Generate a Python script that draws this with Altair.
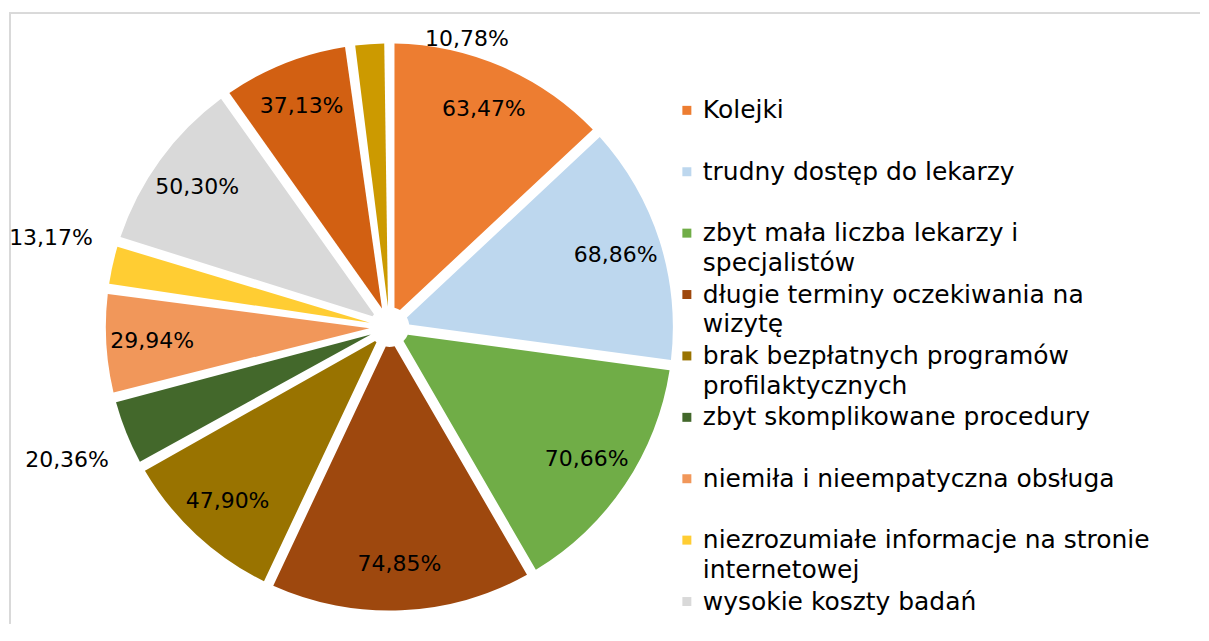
import altair as alt
import pandas as pd

# ---- data ----
categories = [
    "Kolejki",
    "trudny dostęp do lekarzy",
    "zbyt mała liczba lekarzy i specjalistów",
    "długie terminy oczekiwania na wizytę",
    "brak bezpłatnych programów profilaktycznych",
    "zbyt skomplikowane procedury",
    "niemiła i nieempatyczna obsługa",
    "niezrozumiałe informacje na stronie internetowej",
    "wysokie koszty badań",
    "inne 1",
    "inne 2",
]
values = [63.47, 68.86, 70.66, 74.85, 47.90, 20.36, 29.94, 13.17, 50.30, 37.13, 10.78]
colors = [
    "#ED7D31", "#BDD7EE", "#70AD47", "#9E480E", "#997300", "#43682B",
    "#F1975A", "#FFCD33", "#D9D9D9", "#D26012", "#CC9A00",
]
legend_line1 = [
    "Kolejki",
    "trudny dostęp do lekarzy",
    "zbyt mała liczba lekarzy i",
    "długie terminy oczekiwania na",
    "brak bezpłatnych programów",
    "zbyt skomplikowane procedury",
    "niemiła i nieempatyczna obsługa",
    "niezrozumiałe informacje na stronie",
    "wysokie koszty badań",
]
legend_line2 = ["", "", "specjalistów", "wizytę", "profilaktycznych", "", "", "internetowej", ""]

pie_df = pd.DataFrame({"name": categories, "value": values, "idx": list(range(len(categories)))})
leg_df = pd.DataFrame({
    "name": categories[: len(legend_line1)],
    "idx": list(range(len(legend_line1))),
    "line1": legend_line1,
    "line2": legend_line2,
})

FONT = "DejaVu Sans"
W, H = 1193, 612
CX, CY = 381, 315

color_scale = alt.Scale(domain=categories, range=colors)
fmt = "replace(format(datum.value, '.2f'), '.', ',') + '%'"

pie_base = alt.Chart(pie_df).encode(
    theta=alt.Theta("value:Q", stack=True),
    order=alt.Order("idx:Q"),
    x=alt.value(CX),
    y=alt.value(CY),
)

arcs = pie_base.mark_arc(outerRadius=284, innerRadius=20, padAngle=0.036).encode(
    color=alt.Color("name:N", scale=color_scale, legend=None)
)

# labels: inside for large slices, outside for small ones
labels = pie_base.transform_calculate(lab=fmt).mark_text(
    radius=alt.expr("datum.value < 12 ? 292 : datum.value < 25 ? 335 : 238"),
    dx=alt.expr("datum.value < 12 ? 98 : datum.value < 25 ? -12 : 0"),
    dy=alt.expr("datum.value < 12 ? 3 : datum.value < 15 ? -16 : datum.value < 25 ? 8 : 0"),
    fontSize=22, font=FONT, color="#000000",
).encode(text="lab:N")

leg_base = alt.Chart(leg_df).encode(
    y=alt.Y("idx:O", axis=None, scale=alt.Scale(type="point", range=[98, 590], padding=0))
)
leg_sym = leg_base.mark_square(size=81, opacity=1).encode(
    x=alt.value(679),
    color=alt.Color("name:N", scale=color_scale, legend=None),
)
leg_t1 = leg_base.mark_text(align="left", baseline="middle", fontSize=25, font=FONT, color="#000000").encode(
    x=alt.value(695), text="line1:N"
)
leg_t2 = leg_base.transform_filter("datum.line2 != ''").mark_text(
    align="left", baseline="middle", dy=30, fontSize=25, font=FONT, color="#000000"
).encode(x=alt.value(695), text="line2:N")

frame_top = alt.Chart(pie_df).mark_rule(color="#D9D9D9", strokeWidth=1.5).encode(
    x=alt.value(0), x2=alt.value(W), y=alt.value(0.75)
)
frame_left = alt.Chart(pie_df).mark_rule(color="#D9D9D9", strokeWidth=1.5).encode(
    x=alt.value(0.75), y=alt.value(0), y2=alt.value(H)
)

chart = alt.layer(
    frame_top, frame_left, arcs, labels, leg_sym, leg_t1, leg_t2
).properties(
    width=W, height=H,
    padding={"left": 0, "top": 3, "right": 0, "bottom": 0},
    background="white",
).configure_view(stroke=None)

chart.save("out.html", embed_options={"renderer": "svg", "actions": False})
